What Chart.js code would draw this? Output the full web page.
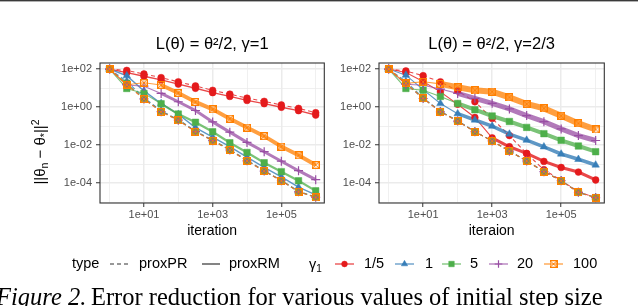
<!DOCTYPE html>
<html>
<head>
<meta charset="utf-8">
<script src="https://cdn.jsdelivr.net/npm/chart.js@4.4.1/dist/chart.umd.min.js"></script>
<style>
  html, body { margin: 0; padding: 0; background: #fff; }
  body { width: 638px; height: 306px; position: relative; overflow: hidden; }
  canvas { position: absolute; }
</style>
</head>
<body>
<canvas id="chartLeft" width="330" height="245" style="left:0;top:0;width:330px;height:245px"></canvas>
<canvas id="chartRight" width="310" height="245" style="left:300px;top:0;width:310px;height:245px"></canvas>
<canvas id="bottom" width="638" height="61" style="left:0;top:245px;width:638px;height:61px"></canvas>
<canvas id="topline" width="638" height="3" style="left:0;top:0;width:638px;height:3px"></canvas>
<script>
const FONT = '"Liberation Sans", Arial, sans-serif';
Chart.defaults.font.family = FONT;

// iterations where the markers sit (half decades)
const iterations = [1, 3.16, 10, 31.6, 100, 316, 1000, 3162, 10000, 31623, 100000, 316228, 1000000];
const gammaLevels = ['1/5', '1', '5', '20', '100'];
const panelTitles = ['L(θ) = θ²/2, γ=1', 'L(θ) = θ²/2, γ=2/3'];
const xAxisTitles = ['iteration', 'iteraion'];
const xTickValues = [1, 10, 100, 1e3, 1e4, 1e5, 1e6];
const xTickLabels = ['', '1e+01', '', '1e+03', '', '1e+05', ''];
const yTickValues = [1e-5, 1e-4, 1e-3, 1e-2, 1e-1, 1, 10, 100];
const yTickLabels = ['', '1e-04', '', '1e-02', '', '1e+00', '', '1e+02'];

// gamma = 1  (||theta_n - theta*||^2)
const g1_PR_1_5 = [100, 85.1, 55.0, 35.5, 21.4, 12.9, 7.59, 4.79, 2.95, 2.00, 1.29, 0.851, 0.501];
const g1_RM_1_5 = [100, 64.6, 41.7, 26.9, 16.2, 9.77, 5.75, 3.63, 2.24, 1.51, 0.977, 0.646, 0.380];
const g1_PR_1   = [100, 22.4, 3.16, 0.631, 0.219, 0.0550, 0.0182, 0.00589, 0.00158, 4.57e-4, 1.38e-4, 3.72e-5, 1.82e-5];
const g1_RM_1   = [100, 44.7, 7.08, 1.55, 0.417, 0.0832, 0.0263, 0.00832, 0.00234, 6.76e-4, 2.09e-4, 6.03e-5, 2.40e-5];
const g1_PR_5   = [100, 17.8, 2.82, 0.603, 0.209, 0.0525, 0.0174, 0.00562, 0.00151, 4.37e-4, 1.35e-4, 3.55e-5, 1.82e-5];
const g1_RM_5   = [100, 9.55, 5.25, 1.48, 0.427, 0.158, 0.0501, 0.0132, 0.00407, 0.00117, 3.98e-4, 1.32e-4, 3.89e-5];
const g1_PR_20  = [100, 15.8, 2.69, 0.575, 0.204, 0.0513, 0.0170, 0.00550, 0.00148, 4.27e-4, 1.32e-4, 3.47e-5, 1.78e-5];
const g1_RM_20  = [100, 14.5, 12.6, 5.25, 1.91, 0.661, 0.166, 0.0479, 0.0138, 0.00447, 0.00141, 4.47e-4, 1.51e-4];
const g1_PR_100 = [100, 15.1, 2.63, 0.562, 0.200, 0.0501, 0.0170, 0.00550, 0.00148, 4.27e-4, 1.32e-4, 3.47e-5, 1.74e-5];
const g1_RM_100 = [100, 15.1, 19.1, 14.5, 5.50, 1.86, 0.759, 0.245, 0.0832, 0.0295, 0.00832, 0.00288, 8.91e-4];

// gamma = 2/3
const g23_PR_1_5 = [100, 79.4, 44.7, 21.4, 7.08, 1.91, 0.251, 0.0316, 0.00355, 5.01e-4, 1.38e-4, 3.47e-5, 1.70e-5];
const g23_RM_1_5 = [100, 66.1, 22.4, 6.31, 1.41, 0.282, 0.0240, 0.00813, 0.00363, 0.00138, 6.61e-4, 3.80e-4, 1.45e-4];
const g23_PR_1   = [100, 22.4, 3.02, 0.603, 0.191, 0.0513, 0.0166, 0.00490, 0.00148, 4.07e-4, 1.35e-4, 3.31e-5, 1.74e-5];
const g23_RM_1   = [100, 47.9, 8.32, 1.55, 0.447, 0.209, 0.100, 0.0380, 0.0182, 0.00813, 0.00339, 0.00178, 8.91e-4];
const g23_PR_5   = [100, 17.8, 2.88, 0.575, 0.186, 0.0501, 0.0166, 0.00479, 0.00145, 3.98e-4, 1.32e-4, 3.24e-5, 1.70e-5];
const g23_RM_5   = [100, 9.55, 7.76, 3.63, 1.55, 0.724, 0.339, 0.174, 0.0851, 0.0398, 0.0178, 0.00891, 0.00447];
const g23_PR_20  = [100, 16.6, 2.82, 0.562, 0.182, 0.0501, 0.0166, 0.00479, 0.00145, 3.98e-4, 1.32e-4, 3.24e-5, 1.70e-5];
const g23_RM_20  = [100, 15.8, 14.1, 8.91, 5.25, 2.88, 1.58, 0.794, 0.355, 0.170, 0.0708, 0.0316, 0.0174];
const g23_PR_100 = [100, 17.8, 2.88, 0.562, 0.182, 0.0501, 0.0162, 0.00479, 0.00145, 3.98e-4, 1.32e-4, 3.24e-5, 1.70e-5];
const g23_RM_100 = [100, 17.8, 21.4, 16.6, 11.0, 7.59, 6.46, 3.24, 1.45, 0.851, 0.347, 0.138, 0.0661];

// colours (Set1), point shapes
const colors = ['#E41A1C', '#377EB8', '#4DAF4A', '#984EA3', '#FF7F00'];
const lineColors = ['rgba(228,26,28,0.8)', 'rgba(55,126,184,0.8)', 'rgba(77,175,74,0.75)', 'rgba(152,78,163,0.75)', 'rgba(255,127,0,0.75)'];

function boxCross(size, color) {
    const c = document.createElement('canvas');
    c.width = size; c.height = size;
    const x = c.getContext('2d');
    x.strokeStyle = color;
    x.lineWidth = 1.3;
    x.strokeRect(0.65, 0.65, size - 1.3, size - 1.3);
    x.lineWidth = 0.9;
    x.beginPath();
    x.moveTo(1, 1); x.lineTo(size - 1, size - 1);
    x.moveTo(size - 1, 1); x.lineTo(1, size - 1);
    x.stroke();
    return c;
}
const pointStyles = ['circle', 'triangle', 'rect', 'cross', boxCross(8, colors[4])];
const pointRadii = [3.4, 4.3, 4.6, 4.5, 4];

function fmtLog(v) {
    const i = yTickValues.indexOf(v);
    return i >= 0 ? yTickLabels[i] : '';
}

function drawRuns(ctx, runs, x, y, align) {
    let total = 0;
    runs.forEach(r => { ctx.font = r[1] + 'px ' + FONT; total += ctx.measureText(r[0]).width; });
    let cx = align === 'center' ? x - total / 2 : x;
    runs.forEach(r => {
        ctx.font = r[1] + 'px ' + FONT;
        ctx.fillText(r[0], cx, y + r[2]);
        cx += ctx.measureText(r[0]).width;
    });
    return cx;
}

function buildDatasets(series, bands, bandStart) {
    const lines = [], points = [];
    series.forEach((pair, g) => {
        pair.forEach((vals, t) => {
            const data = iterations.map((x, i) => ({ x: x, y: vals[i] }));
            const isRM = t === 1;
            lines.push({
                data: data,
                borderColor: lineColors[g],
                borderWidth: 1.1,
                borderDash: isRM ? [] : [4, 3],
                pointRadius: 0,
                tension: 0,
                order: 200 - (g * 2 + t),
                segment: {
                    borderWidth: ctx => (isRM && ctx.p0DataIndex >= bandStart[g]) ? bands[g] : 1.1
                }
            });
            points.push({
                data: data,
                showLine: false,
                pointStyle: pointStyles[g],
                pointRadius: pointRadii[g],
                pointBackgroundColor: colors[g],
                pointBorderColor: colors[g],
                pointBorderWidth: g === 3 ? 1.2 : 0.5,
                order: 100 - (g * 2 + t)
            });
        });
    });
    return lines.concat(points);
}

const panelDecor = {
    id: 'panelDecor',
    afterDraw(chart, args, opts) {
        const ctx = chart.ctx, a = chart.chartArea;
        ctx.save();
        ctx.strokeStyle = '#333333';
        ctx.lineWidth = 1.1;
        ctx.strokeRect(a.left, a.top, a.right - a.left, a.bottom - a.top);
        ctx.fillStyle = '#000';
        ctx.textBaseline = 'middle';
        ctx.textAlign = 'center';
        ctx.font = '16.5px ' + FONT;
        ctx.fillText(opts.title, (a.left + a.right) / 2, 44);
        if (opts.yTitle) {
            ctx.translate(40, 152);
            ctx.rotate(-Math.PI / 2);
            ctx.textAlign = 'left';
            ctx.textBaseline = 'alphabetic';
            drawRuns(ctx, [['||θ', 15, 0], ['n', 10.5, 3], [' − θ', 15, 0], ['*', 10.5, 3], ['||', 15, 0], ['2', 10.5, -6]], 0, 5, 'center');
        }
        ctx.restore();
    }
};

function makeChart(id, series, idx, yWidth, bands, bandStart) {
    return new Chart(document.getElementById(id), {
        type: 'line',
        data: { datasets: buildDatasets(series, bands, bandStart) },
        plugins: [panelDecor],
        options: {
            responsive: false,
            animation: false,
            layout: { padding: { top: 63, right: 5, left: 0, bottom: 0 } },
            plugins: {
                legend: { display: false },
                tooltip: { enabled: false },
                panelDecor: { title: panelTitles[idx], yTitle: idx === 0 }
            },
            scales: {
                x: {
                    type: 'logarithmic',
                    min: 0.525, max: 1.78e6,
                    afterBuildTicks: s => { s.ticks = xTickValues.map(v => ({ value: v })); },
                    afterFit: s => { s.height = 42; },
                    border: { display: false },
                    grid: {
                        color: '#EBEBEB',
                        lineWidth: c => (c.tick && xTickLabels[xTickValues.indexOf(c.tick.value)]) ? 1.5 : 0.75,
                        tickColor: c => (c.tick && xTickLabels[xTickValues.indexOf(c.tick.value)]) ? '#333333' : 'rgba(0,0,0,0)',
                        tickLength: 4,
                        tickWidth: 1
                    },
                    ticks: {
                        autoSkip: false, maxRotation: 0, padding: 1,
                        color: '#4D4D4D', font: { size: 11 },
                        callback: v => xTickLabels[xTickValues.indexOf(v)] || ''
                    },
                    title: {
                        display: true, text: xAxisTitles[idx], color: '#000',
                        font: { size: 14 }, padding: { top: 0, bottom: 5 }
                    }
                },
                y: {
                    type: 'logarithmic',
                    min: 8.9e-6, max: 209,
                    afterBuildTicks: s => { s.ticks = yTickValues.map(v => ({ value: v })); },
                    afterFit: s => { s.width = yWidth; },
                    border: { display: false },
                    grid: {
                        color: '#EBEBEB',
                        lineWidth: c => (c.tick && fmtLog(c.tick.value)) ? 1.5 : 0.75,
                        tickColor: c => (c.tick && fmtLog(c.tick.value)) ? '#333333' : 'rgba(0,0,0,0)',
                        tickLength: 4,
                        tickWidth: 1
                    },
                    ticks: {
                        autoSkip: false, padding: 4,
                        color: '#4D4D4D', font: { size: 11 },
                        callback: v => fmtLog(v)
                    }
                }
            }
        }
    });
}

const leftSeries = [[g1_PR_1_5, g1_RM_1_5], [g1_PR_1, g1_RM_1], [g1_PR_5, g1_RM_5], [g1_PR_20, g1_RM_20], [g1_PR_100, g1_RM_100]];
const rightSeries = [[g23_PR_1_5, g23_RM_1_5], [g23_PR_1, g23_RM_1], [g23_PR_5, g23_RM_5], [g23_PR_20, g23_RM_20], [g23_PR_100, g23_RM_100]];

makeChart('chartLeft', leftSeries, 0, 100, [1.4, 1.4, 2.2, 3, 4], [0, 0, 3, 3, 3]);
makeChart('chartRight', rightSeries, 1, 79, [3, 3.5, 4, 5, 6], [6, 4, 4, 4, 3]);

// top rule
const tl = document.getElementById('topline').getContext('2d');
tl.fillStyle = '#3a3a3a';
tl.fillRect(0, 0, 638, 1.4);

// legend + caption
const bc = document.getElementById('bottom').getContext('2d');
const ly = 19;
bc.fillStyle = '#000';
bc.textBaseline = 'middle';
bc.font = '14.5px ' + FONT;
bc.fillText('type', 72, ly);
bc.strokeStyle = '#333';
bc.lineWidth = 1.2;
bc.setLineDash([4, 3]);
bc.beginPath(); bc.moveTo(110, ly); bc.lineTo(128, ly); bc.stroke();
bc.setLineDash([]);
bc.fillText('proxPR', 139, ly);
bc.beginPath(); bc.moveTo(202, ly); bc.lineTo(220, ly); bc.stroke();
bc.fillText('proxRM', 229, ly);
bc.textBaseline = 'alphabetic';
drawRuns(bc, [['γ', 14.5, 0], ['1', 10, 3]], 309, ly + 5, 'left');
bc.textBaseline = 'middle';
const keyX = [335, 395, 442, 489, 544];
const labX = [364, 425, 470, 517, 573];
gammaLevels.forEach((lab, g) => {
    bc.strokeStyle = lineColors[g];
    bc.lineWidth = 1.3;
    bc.beginPath(); bc.moveTo(keyX[g], ly); bc.lineTo(keyX[g] + 19, ly); bc.stroke();
    bc.fillStyle = colors[g];
    bc.strokeStyle = colors[g];
    bc.lineWidth = g === 3 ? 1.2 : 0.5;
    Chart.helpers.drawPoint(bc, {
        pointStyle: pointStyles[g], radius: pointRadii[g] * 0.85, rotation: 0,
        borderWidth: g === 3 ? 1.2 : 0.5
    }, keyX[g] + 9.5, ly);
    bc.fillStyle = '#000';
    bc.font = '14.5px ' + FONT;
    bc.fillText(lab, labX[g], ly);
});

bc.textBaseline = 'alphabetic';
bc.fillStyle = '#000';
bc.font = 'italic 24.5px "Liberation Serif", "Times New Roman", serif';
bc.fillText('Figure 2.', -4, 60);
bc.font = '24.5px "Liberation Serif", "Times New Roman", serif';
bc.fillText('Error reduction for various values of initial step size', 91, 60);
</script>
</body>
</html>
